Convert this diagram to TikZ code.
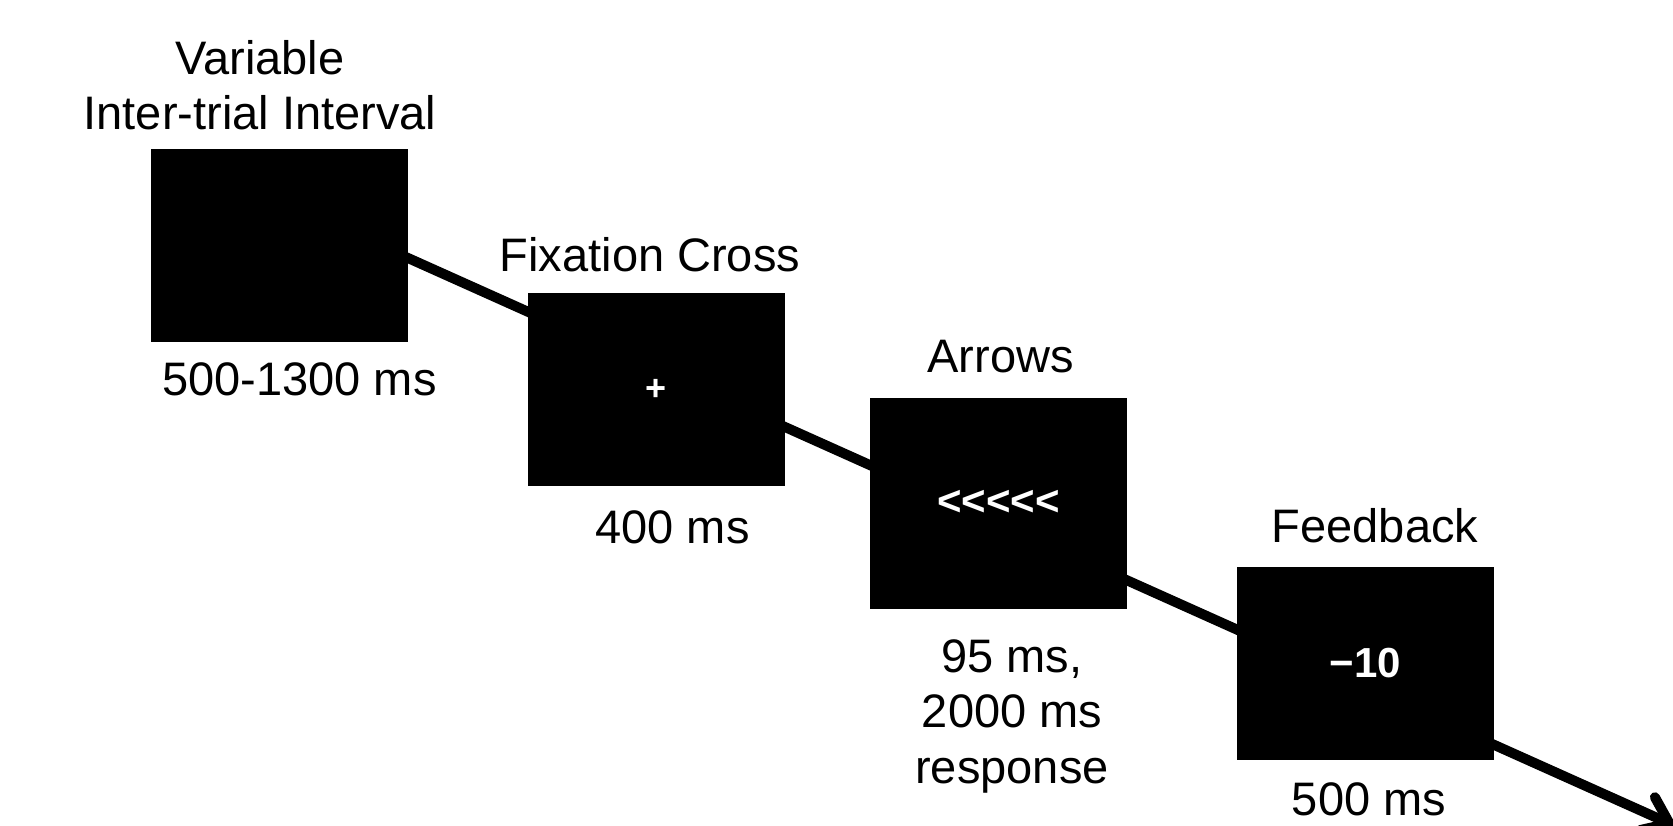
\documentclass[tikz,border=0pt]{standalone}
\usepackage{fontspec}
\setmainfont{Liberation Sans}
\usetikzlibrary{arrows.meta, backgrounds}

\begin{document}
\begin{tikzpicture}[x=1pt, y=-1pt,
  stim/.style={fill=black, text=white, inner sep=0pt, minimum width=257pt, minimum height=193pt, font=\fontsize{42}{50}\selectfont\bfseries},
  lab/.style={anchor=base, align=center, inner sep=0pt, font=\fontsize{47}{55.5}\selectfont}]
\useasboundingbox (0,0) rectangle (1673,826);
\node[stim] (itiBox) at (279.5,245.5) {};
\node[stim, font=\fontsize{36}{42}\selectfont\bfseries] (fixBox) at (656.5,389.5) {+};
\node[stim, minimum height=211pt] (arrBox) at (998.5,503) {<{}<{}<{}<{}<};
\node[stim] (fbBox) at (1365.5,663.5) {−10};
\node[lab] (itiLab) at (260,130) {Variable\\Inter-trial Interval};
\node[lab] (itiTime) at (299.5,395) {500-1300 ms};
\node[lab] (fixLab) at (650,272) {Fixation Cross};
\node[lab] (fixTime) at (672.5,543) {400 ms};
\node[lab] (arrLab) at (1000.5,372) {Arrows};
\node[lab] (arrTime) at (1012,783) {95 ms,\\2000 ms\\response};
\node[lab] (fbLab) at (1375,542) {Feedback};
\node[lab] (fbTime) at (1369,815) {500 ms};
\coordinate (trialStart) at (300,209.6);
\coordinate (trialEnd) at (1674,825.5);
\begin{scope}[on background layer]
\draw[line width=10pt, line cap=round, -{Straight Barb[length=24pt, width=36pt, round]}] (trialStart) -- (trialEnd);
\end{scope}
\end{tikzpicture}
\end{document}
